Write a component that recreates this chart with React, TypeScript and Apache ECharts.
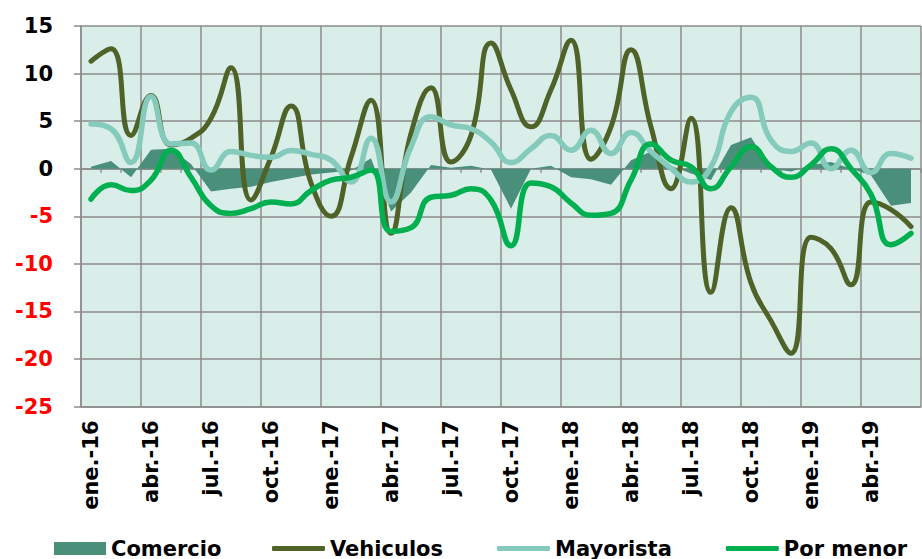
import React, { useEffect, useRef } from "react";
import * as echarts from "echarts";

const months = ["ene.", "feb.", "mar.", "abr.", "may.", "jun.", "jul.", "ago.", "sep.", "oct.", "nov.", "dic."];
const years = ["16", "17", "18", "19"];
const categories: string[] = [];
for (const y of years) for (const m of months) categories.push(`${m}-${y}`);
categories.length = 42; // ene.-16 .. jun.-19

const comercio = [0.2, 0.8, -0.9, 2.0, 2.1, 0.5, -2.4, -2.1, -1.9, -1.4, -1.0, -0.6, -0.4, -0.2, 1.1, -4.5, -2.5, 0.4, 0.1, 0.3, -0.1, -4.2, 0.0, 0.3, -0.9, -1.1, -1.7, 0.9, 1.8, 0.3, -0.5, -1.2, 2.5, 3.3, 0.0, -0.3, 0.4, 0.7, 0.0, -0.7, -3.9, -3.6];
const vehiculos = [11.3, 12.6, 3.5, 7.7, 2.5, 3.2, 5.3, 10.6, -3.3, 1.2, 6.6, -1.5, -5.0, 1.2, 7.2, -6.8, 3.7, 8.5, 0.7, 3.5, 13.2, 8.3, 4.4, 8.3, 13.5, 1.0, 4.4, 12.5, 4.4, -2.1, 5.3, -13.0, -4.1, -12.0, -16.0, -19.4, -7.2, -8.4, -12.2, -3.5, -4.3, -6.1];
const mayorista = [4.7, 4.2, 0.65, 7.6, 2.6, 2.7, -0.15, 1.8, 1.4, 1.2, 1.9, 1.5, 0.9, -1.4, 3.2, -3.5, 2.3, 5.45, 4.6, 4.2, 2.8, 0.65, 2.1, 3.5, 1.95, 4.05, 1.6, 3.8, 1.8, 0.05, -1.4, 0.2, 6.0, 7.5, 3.0, 1.8, 2.7, 0.0, 1.95, -0.4, 1.6, 1.1];
const porMenor = [-3.2, -1.7, -2.3, -1.2, 1.95, -0.9, -3.9, -4.7, -4.2, -3.5, -3.7, -2.3, -1.2, -0.9, -0.15, -6.6, -6.2, -3.0, -2.8, -2.1, -3.3, -8.1, -1.5, -1.9, -3.6, -4.9, -4.7, -1.2, 2.6, 0.9, 0.2, -2.1, 0.2, 2.3, 0.2, -0.9, 0.4, 2.1, 0.0, -2.7, -8.0, -6.8];

const FONT = "DejaVu Sans";
const GRID_COLOR = "#8c8c8c";

export default function App() {
  const ref = useRef<HTMLDivElement>(null);
  useEffect(() => {
    if (!ref.current) return;
    const chart = echarts.init(ref.current, undefined, { renderer: "svg" });
    const legendText = { fontFamily: FONT, fontWeight: "bold", fontSize: 21, color: "#000" };
    chart.setOption({
      animation: false,
      backgroundColor: "#ffffff",
      grid: {
        left: 81,
        top: 26,
        right: 1,
        bottom: 152.5,
        show: true,
        backgroundColor: "#daeee9",
        borderWidth: 0,
      },
      legend: [
        {
          left: 54,
          top: 538,
          padding: 0,
          itemWidth: 52,
          itemHeight: 13,
          textStyle: legendText,
          data: [{ name: "Comercio", icon: "rect" }],
        },
        {
          left: 272,
          top: 538,
          padding: 0,
          itemWidth: 53,
          itemHeight: 5,
          itemGap: 54,
          textStyle: legendText,
          data: [
            { name: "Vehiculos", icon: "roundRect" },
            { name: "Mayorista", icon: "roundRect" },
            { name: "Por menor", icon: "roundRect" },
          ],
        },
      ],
      xAxis: [
        {
          type: "category",
          data: categories,
          position: "bottom",
          boundaryGap: true,
          axisLine: { onZero: false, lineStyle: { color: GRID_COLOR, width: 1.5 } },
          axisTick: { show: false },
          axisLabel: {
            interval: 2,
            rotate: 90,
            margin: 14,
            fontFamily: FONT,
            fontWeight: "bold",
            fontSize: 21,
            color: "#000",
          },
          splitLine: { show: true, interval: 2, lineStyle: { color: GRID_COLOR, width: 1.5 } },
        },
        {
          type: "category",
          data: categories,
          position: "top",
          boundaryGap: true,
          axisLine: { onZero: true, lineStyle: { color: GRID_COLOR, width: 1.5 } },
          axisTick: { show: true, inside: true, interval: 0, length: 4, lineStyle: { color: GRID_COLOR, width: 1.5 } },
          axisLabel: { show: false },
          splitLine: { show: false },
        },
      ],
      yAxis: {
        type: "value",
        min: -25,
        max: 15,
        interval: 5,
        axisLine: { show: true, lineStyle: { color: GRID_COLOR, width: 1.5 } },
        axisTick: { show: true, length: 7, lineStyle: { color: GRID_COLOR, width: 1.5 } },
        axisLabel: {
          margin: 28,
          fontFamily: FONT,
          fontWeight: "bold",
          fontSize: 21,
          color: (v: any) => (Number(v) < 0 ? "#ff0000" : "#000000"),
        },
        splitLine: { show: true, lineStyle: { color: GRID_COLOR, width: 1.5 } },
      },
      series: [
        {
          name: "Comercio",
          type: "line",
          data: comercio,
          symbol: "none",
          smooth: false,
          lineStyle: { width: 0, color: "#4a8f7a" },
          itemStyle: { color: "#4a8f7a" },
          areaStyle: { color: "#4a8f7a", opacity: 1, origin: "auto" },
        },
        {
          name: "Vehiculos",
          type: "line",
          data: vehiculos,
          symbol: "none",
          smooth: true,
          lineStyle: { width: 5, color: "#4f6228", cap: "round", join: "round" },
          itemStyle: { color: "#4f6228" },
        },
        {
          name: "Mayorista",
          type: "line",
          data: mayorista,
          symbol: "none",
          smooth: true,
          lineStyle: { width: 5.5, color: "#85cbbb", cap: "round", join: "round" },
          itemStyle: { color: "#85cbbb" },
        },
        {
          name: "Por menor",
          type: "line",
          data: porMenor,
          symbol: "none",
          smooth: true,
          lineStyle: { width: 5.5, color: "#00b050", cap: "round", join: "round" },
          itemStyle: { color: "#00b050" },
        },
      ],
    });
    return () => chart.dispose();
  }, []);
  return (
    <div
      ref={ref}
      style={{ position: "fixed", left: 0, top: 0, width: 922, height: 559 }}
    />
  );
}
